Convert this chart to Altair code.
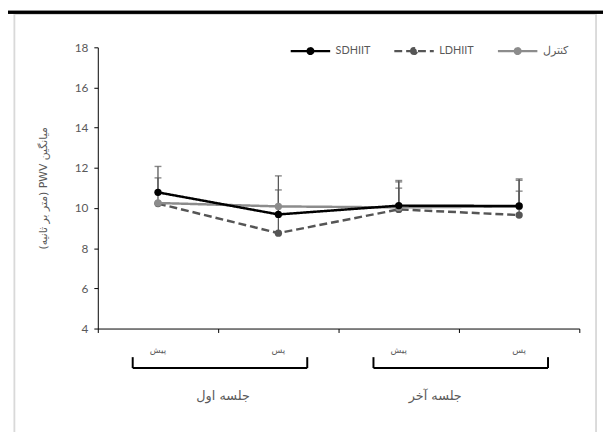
import altair as alt
import pandas as pd

# ---- data ----
phases = ["پیش", "پس", "پیش", "پس"]
sessions = ["جلسه اول", "جلسه اول", "جلسه آخر", "جلسه آخر"]
series = ["SDHIIT", "LDHIIT", "کنترل"]
sdhiit = [10.78, 9.68, 10.12, 10.10]
ldhiit = [10.22, 8.75, 9.93, 9.65]
control = [10.25, 10.08, 10.03, 10.08]
sdhiit_upper = [12.07, 11.60, 11.37, 11.45]
ldhiit_upper = [11.50, 10.90, 11.30, 11.38]
control_upper = [None, None, 10.99, 10.84]
y_ticks = [4, 6, 8, 10, 12, 14, 16, 18]
y_title = "(متر بر ثانیه) PWV میانگین"

values = {"SDHIIT": sdhiit, "LDHIIT": ldhiit, "کنترل": control}
uppers = {"SDHIIT": sdhiit_upper, "LDHIIT": ldhiit_upper, "کنترل": control_upper}

rows = []
for s in series:
    for i in range(len(phases)):
        rows.append({"series": s, "idx": i, "phase": phases[i], "session": sessions[i],
                     "value": values[s][i], "upper": uppers[s][i]})
df = pd.DataFrame(rows)
err_df = df.dropna(subset=["upper"])
cat_df = pd.DataFrame({"idx": list(range(len(phases))), "phase": phases})
sess_df = pd.DataFrame({"session": ["جلسه اول", "جلسه آخر"], "start": [0, 2]})

FONT = "Lato"
GRAY = "#595959"

xscale = alt.Scale(domain=[0, 4], nice=False, zero=False)
yscale = alt.Scale(domain=[4, 18], nice=False, zero=False)
X = alt.X("xpos:Q", scale=xscale,
          axis=alt.Axis(values=[0, 1, 2, 3, 4], labels=False, grid=False, title=None,
                        tickSize=4, tickColor="black", domainColor="black", domainWidth=1))
Y = alt.Y("value:Q", scale=yscale,
          axis=alt.Axis(values=y_ticks, grid=False, tickSize=4, tickColor="black",
                        domainColor="black", labelColor=GRAY, labelFontSize=12, labelFont=FONT,
                        labelPadding=6, title=y_title, titleFontSize=11, titleColor=GRAY,
                        titleFontWeight="normal", titlePadding=26, titleFont="DejaVu Sans"))

color_scale = alt.Scale(domain=series, range=["#000000", "#555555", "#8c8c8c"])
dash_scale = alt.Scale(domain=series, range=[[1, 0], [8, 4], [1, 0]])
legend = alt.Legend(title=None, orient="none", direction="horizontal", legendX=194, legendY=-18,
                    symbolType="M-1,0L1,0M-0.14,0a0.14,0.14 0 1,0 0.28,0a0.14,0.14 0 1,0 -0.28,0",
                    symbolSize=1600, symbolStrokeWidth=2.5, labelFont=FONT, labelFontSize=11,
                    labelColor=GRAY, labelOffset=4, columnPadding=18, padding=0)

base = alt.Chart(df).transform_calculate(xpos="datum.idx + 0.5")

frame = alt.Chart(sess_df).mark_rect(fillOpacity=0, stroke="#d9d9d9", strokeWidth=1.5).encode(
    x=alt.value(-84.5), x2=alt.value(505), y=alt.value(-33.5), y2=alt.value(400))
top_line = alt.Chart(sess_df).mark_rule(color="black", strokeWidth=3).encode(
    x=alt.value(-91), x2=alt.value(512), y=alt.value(-35.5))

err_base = alt.Chart(err_df).transform_calculate(xpos="datum.idx + 0.5")
err_rule = err_base.mark_rule(color=GRAY, strokeWidth=1.3).encode(x=X, y=Y, y2="upper:Q")
err_cap = err_base.mark_tick(orient="horizontal", color=GRAY, thickness=1.4, size=7).encode(
    x=X, y=alt.Y("upper:Q", scale=yscale))

layers = [frame, top_line, err_rule, err_cap]
for s in ["LDHIIT", "کنترل", "SDHIIT"]:
    b = base.transform_filter(alt.datum.series == s)
    layers.append(b.mark_line(strokeWidth=2.5).encode(
        x=X, y=Y,
        color=alt.Color("series:N", scale=color_scale, legend=legend),
        strokeDash=alt.StrokeDash("series:N", scale=dash_scale, legend=legend)))
    layers.append(b.mark_point(filled=True, size=55, opacity=1).encode(
        x=X, y=Y, color=alt.Color("series:N", scale=color_scale, legend=legend)))

cat_text = alt.Chart(cat_df).transform_calculate(xpos="datum.idx + 0.5").mark_text(
    fontSize=9, color=GRAY, font="DejaVu Sans").encode(
    x=alt.X("xpos:Q", scale=xscale), y=alt.value(307), text="phase:N")

sb = alt.Chart(sess_df).transform_calculate(a="datum.start + 0.29", b="datum.start + 1.74")
br_h = sb.mark_rule(color="black", strokeWidth=2).encode(
    x=alt.X("a:Q", scale=xscale), x2="b:Q", y=alt.value(325))
br_l = sb.mark_rule(color="black", strokeWidth=2).encode(
    x=alt.X("a:Q", scale=xscale), y=alt.value(314), y2=alt.value(325))
br_r = sb.mark_rule(color="black", strokeWidth=2).encode(
    x=alt.X("b:Q", scale=xscale), y=alt.value(314), y2=alt.value(325))

lab1 = alt.Chart(sess_df).transform_filter(alt.datum.start == 0).mark_text(
    fontSize=13, color=GRAY, font="DejaVu Sans").encode(
    x=alt.value(127), y=alt.value(353), text="session:N")
lab2 = alt.Chart(sess_df).transform_filter(alt.datum.start == 2).mark_text(
    fontSize=13, color=GRAY, font="DejaVu Sans").encode(
    x=alt.value(342), y=alt.value(353), text="session:N")

layers += [cat_text, br_h, br_l, br_r, lab1, lab2]

chart = alt.layer(*layers).properties(
    width=488, height=285, autosize="none",
    padding={"left": 91, "top": 37, "right": 24, "bottom": 102},
).configure_view(stroke=None)

chart.save("out.html", embed_options={"renderer": "svg", "actions": False})
